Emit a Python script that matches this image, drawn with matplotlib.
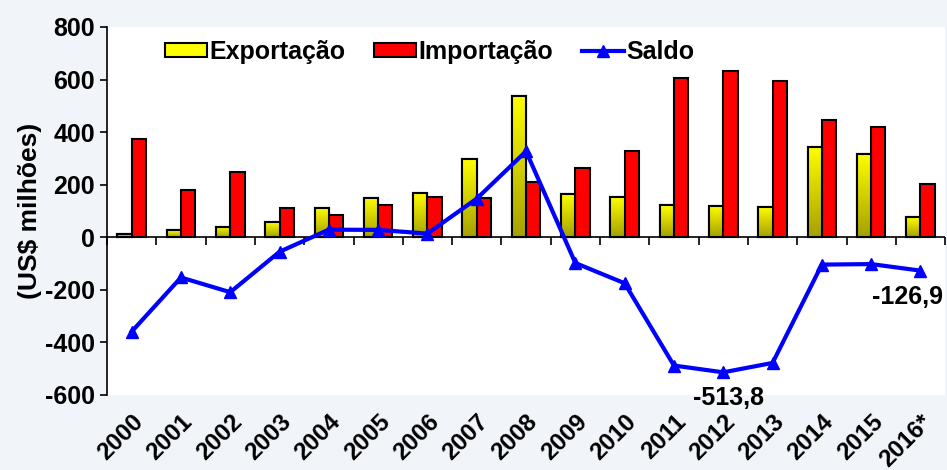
import matplotlib.pyplot as plt
import numpy as np
from matplotlib.lines import Line2D
from matplotlib.patches import Patch
from matplotlib.colors import LinearSegmentedColormap

plt.rcParams['font.family'] = ['Liberation Sans', 'DejaVu Sans']
plt.rcParams['font.weight'] = 'bold'
plt.rcParams['axes.unicode_minus'] = False

anos = ['2000', '2001', '2002', '2003', '2004', '2005', '2006', '2007', '2008',
        '2009', '2010', '2011', '2012', '2013', '2014', '2015', '2016*']
exportacao = [13, 26, 39, 57, 113, 150, 169, 297, 538, 166, 154, 121, 118, 116, 344, 317, 76]
importacao = [372, 179, 248, 112, 84, 122, 155, 150, 211, 264, 329, 607, 632, 594, 448, 419, 203]
saldo = [-359, -153, -209, -55, 29, 28, 14, 147, 327, -98, -175, -488, -513.8, -478, -104, -102, -126.9]

x = np.arange(len(anos))
w = 0.29
ymin, ymax = -600, 800

fig = plt.figure(figsize=(9.47, 4.70), dpi=100, facecolor='#f1f4f8')
ax = fig.add_axes([0.113, 0.1596, 0.885, 0.783])
ax.set_facecolor('white')

# barras de exportação com degradê amarelo -> oliva
grad = np.linspace(0, 1, 256).reshape(-1, 1)
cmap = LinearSegmentedColormap.from_list('amarelo', ['#a5a000', '#ffff00'])
bars_exp = ax.bar(x - w / 2, exportacao, w, color='#ffff00', edgecolor='black', linewidth=1.5, zorder=2)
for b in bars_exp:
    bx, by = b.get_x(), b.get_y()
    bw, bh = b.get_width(), b.get_height()
    im = ax.imshow(grad, extent=(bx, bx + bw, by, by + bh), origin='lower', cmap=cmap,
                   aspect='auto', zorder=2.1)
    im.set_clip_path(b)
    ax.bar(bx + bw / 2, bh, bw, fill=False, edgecolor='black', linewidth=1.5, zorder=2.2)

ax.bar(x + w / 2, importacao, w, color='#ff0000', edgecolor='black', linewidth=1.5, zorder=2)

ax.plot(x, saldo, color='#0000ff', linewidth=3, marker='^', markersize=9, zorder=4)

ax.axhline(0, color='black', linewidth=1.2, zorder=3)

ax.annotate('-513,8', (x[12], saldo[12]), textcoords='offset points', xytext=(4, -10),
            ha='center', va='top', fontsize=18, fontweight='bold')
ax.annotate('-126,9', (x[16], saldo[16]), textcoords='offset points', xytext=(-9, -10),
            ha='center', va='top', fontsize=18, fontweight='bold')

ax.set_xlim(-0.5, len(anos) - 0.5)
ax.set_ylim(ymin, ymax)
ax.set_yticks(np.arange(-600, 801, 200))
ax.tick_params(axis='y', labelsize=18, width=1.2, length=5)
ax.set_xticks(x)
ax.set_xticklabels(anos, rotation=45, ha='right', rotation_mode='anchor', fontsize=17.5)
ax.tick_params(axis='x', length=0, pad=11)
for s in ['top', 'right', 'bottom']:
    ax.spines[s].set_visible(False)
ax.spines['left'].set_linewidth(1.2)

# marcas do eixo x na linha do zero
sec = ax.secondary_xaxis((0 - ymin) / (ymax - ymin))
sec.set_xticks(np.arange(len(anos) + 1) - 0.5)
sec.set_xticklabels([])
sec.tick_params(length=6, width=1.2)
sec.spines['bottom'].set_visible(False)

ax.set_ylabel('(US$ milhões)', fontsize=19, fontweight='bold', labelpad=2)

handles = [Patch(facecolor='#ffff00', edgecolor='black', linewidth=1.5),
           Patch(facecolor='#ff0000', edgecolor='black', linewidth=1.5),
           Line2D([0], [0], color='#0000ff', linewidth=3, marker='^', markersize=9)]
ax.legend(handles, ['Exportação', 'Importação', 'Saldo'], loc='center',
          bbox_to_anchor=(0.385, 0.932), ncol=3, frameon=False, fontsize=18,
          handlelength=1.68, handleheight=0.45, handletextpad=0.08, columnspacing=1.15)

fig.savefig('out.png', dpi=100, facecolor=fig.get_facecolor())
